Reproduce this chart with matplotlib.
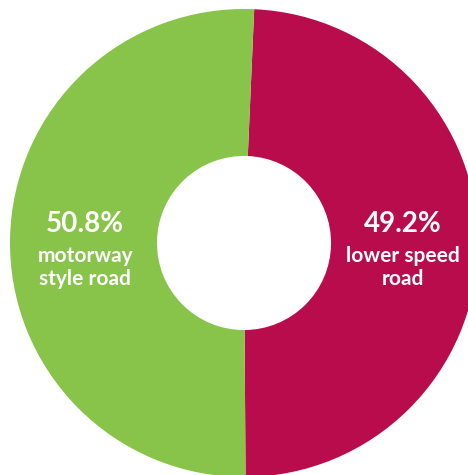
import matplotlib
matplotlib.use('Agg')
import matplotlib.pyplot as plt

# road type share
labels = ['lower speed\nroad', 'motorway\nstyle road']
shares = [49.2, 50.8]
colours = ['#B80C4C', '#88C34A']

plt.rcParams['font.family'] = ['Lato', 'DejaVu Sans']

fig = plt.figure(figsize=(4.68, 4.75), dpi=100)
ax = fig.add_axes([0, 0, 1, 1])
ax.pie(shares, colors=colours, startangle=87.5, counterclock=False,
       radius=1.0, wedgeprops=dict(width=0.628, linewidth=0))

# pixel geometry of the reference: centre (244, 243), radius 234
ax.set_xlim(-244 / 234, (468 - 244) / 234)
ax.set_ylim(-(475 - 243) / 234, 243 / 234)
ax.axis('off')

for share, lab, x in zip(shares, labels, [0.679, -0.679]):
    ax.text(x, 0.047, '%.1f%%' % share, color='white', fontsize=20,
            fontweight='bold', ha='center', va='baseline')
    for i, line in enumerate(lab.split('\n')):
        ax.text(x, -0.0812 - 0.098 * i, line, color='white', fontsize=15,
                fontweight='bold', ha='center', va='baseline')

fig.savefig('out.png', dpi=100)
